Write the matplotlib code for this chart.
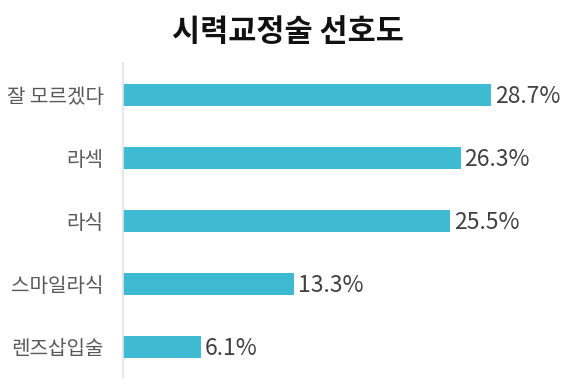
import matplotlib
matplotlib.use("Agg")
import matplotlib.pyplot as plt

plt.rcParams["font.family"] = ["Noto Sans CJK KR", "DejaVu Sans"]

categories = ["잘 모르겠다", "라섹", "라식", "스마일라식", "렌즈삽입술"]
values = [28.7, 26.3, 25.5, 13.3, 6.1]
bar_color = "#3FBAD3"

fig = plt.figure(figsize=(5.8, 3.87), dpi=100)
ax = fig.add_axes([0.212, 0.023, 0.788, 0.814])

y = list(range(len(categories)))
ax.barh(y, values, height=0.35, color=bar_color)
for yi, v in zip(y, values):
    ax.text(v + 0.3, yi + 0.03, f"{v}%", va="center", ha="left", fontsize=16.5, color="#404040")

ax.set_ylim(len(categories) - 0.5, -0.5)
ax.set_xlim(0, 35.6)
ax.set_yticks(y)
ax.set_yticklabels(categories, fontsize=14.5, color="#595959")
ax.tick_params(axis="y", length=0, pad=14)
ax.set_xticks([])
for s in ["top", "right", "bottom"]:
    ax.spines[s].set_visible(False)
ax.spines["left"].set_color("#e3e3e3")
ax.spines["left"].set_linewidth(1.2)

fig.text(0.497, 0.918, "시력교정술 선호도", ha="center", va="center",
         fontsize=22, fontweight="bold", color="#111111")

fig.savefig("out.png", dpi=100)
